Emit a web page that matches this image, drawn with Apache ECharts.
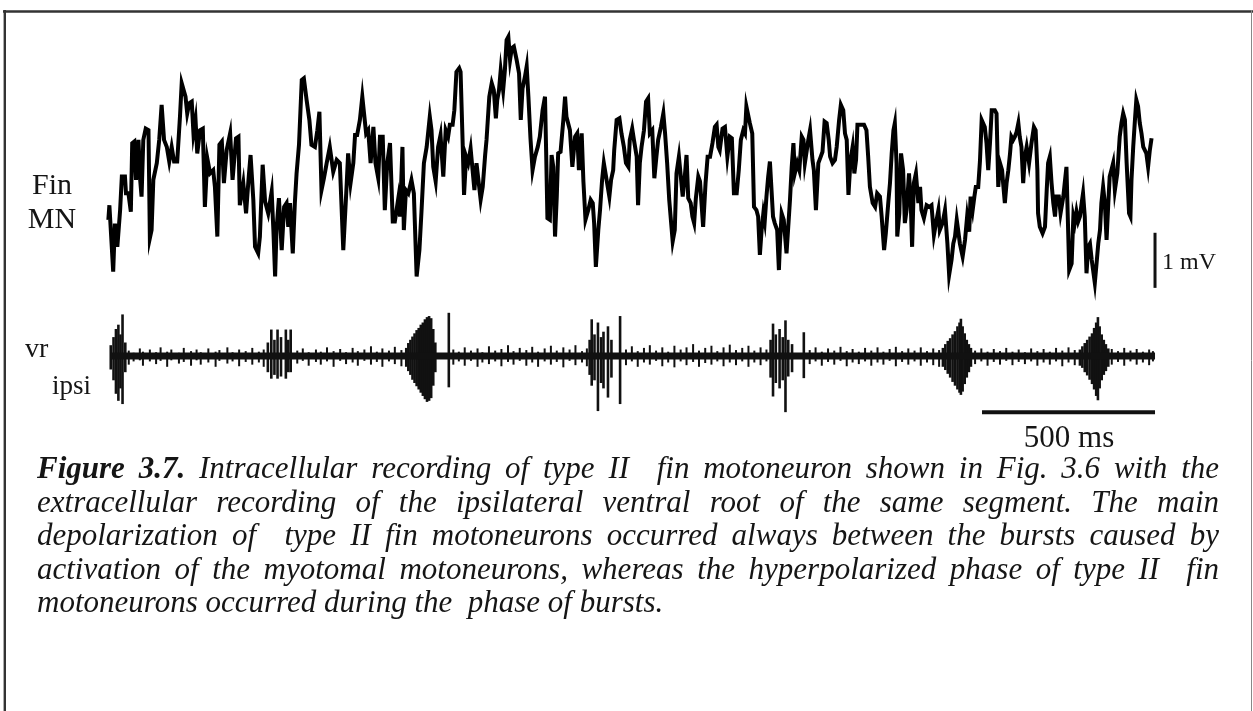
<!DOCTYPE html>
<html>
<head>
<meta charset="utf-8">
<script src="https://cdn.jsdelivr.net/npm/echarts/dist/echarts.min.js"></script>
<style>
html,body{margin:0;padding:0;background:#fff;}
#chart{width:1253px;height:711px;}
</style>
</head>
<body>
<div id="chart"></div>
<script>
// ---------- DATA (time in ms, potential in mV) ----------
// Fin MN intracellular trace, in three consecutive segments [ms, mV]
const finSeg1 = [[1,1.17],[4,1.44],[15,0.21],[20,1.10],[27,0.67],[35,1.35],[40,1.97],[49,1.97],[52,1.66],[59,1.66],[66,1.32],[70,2.59],[76,2.62],[81,1.91],[88,2.65],[93,1.91],[97,1.60],[102,2.65],[109,2.86],[117,2.83],[121,0.83],[126,0.98],[131,1.91],[141,2.22],[148,2.65],[155,3.30],[162,2.65],[170,2.52],[177,2.25],[184,2.52],[191,2.25],[200,2.25],[208,3.08],[213,3.70],[218,3.73],[224,3.45],[229,3.14],[235,3.33],[242,3.36],[247,2.77],[253,3.02],[258,2.40],[266,2.83],[274,2.86],[280,1.41],[287,2.31],[295,2.03],[304,2.09],[309,1.78],[316,0.86],[322,2.56],[329,2.62],[335,1.85],[343,2.46],[353,2.77],[360,1.91],[370,2.68],[377,2.71],[381,1.44],[391,1.85],[399,1.29],[406,1.91],[412,2.37],[420,1.54],[425,0.67],[434,0.55],[439,0.86],[447,2.19],[454,1.51],[463,1.29],[473,1.69],[478,0.98],[483,0.12],[487,0.98],[494,1.57],[502,0.61],[509,1.41],[516,1.48],[521,1.04],[526,1.48],[534,0.55],[540,1.48],[545,2.03],[552,2.56],[560,3.76],[566,3.79],[574,3.39],[582,3.02],[588,2.56],[598,2.52],[605,2.83],[611,3.17],[617,1.72],[624,1.94],[632,2.22],[641,2.52],[651,2.06],[661,2.28],[670,2.22],[680,0.61],[690,1.85],[694,2.40],[701,1.85],[709,2.22],[714,2.74],[720,2.74],[728,3.02],[735,3.45],[740,3.14],[746,2.77],[752,2.83],[759,2.22],[767,2.89],[773,2.22],[781,1.94],[786,2.71],[794,2.71],[800,1.35],[807,2.22],[815,2.59],[823,1.14],[829,1.14],[839,1.57],[844,1.23],[851,2.52],[855,0.98],[861,1.72],[868,1.66],[877,1.91],[884,1.66],[892,0.12],[900,0.61],[906,1.32],[913,2.22],[921,2.52],[930,3.08],[935,2.83],[940,2.15],[947,1.88],[954,2.52],[961,2.74],[969,1.97],[976,2.83],[983,2.71],[988,2.93],[996,2.93],[1001,3.20],[1007,3.91],[1015,3.98]];
const finSeg2 = [[1019,3.91],[1025,2.59],[1029,1.63],[1035,2.34],[1041,2.22],[1048,2.49],[1053,2.46],[1059,1.72],[1065,2.22],[1070,2.25],[1077,1.54],[1083,1.78],[1090,2.37],[1094,2.65],[1102,3.45],[1109,3.70],[1115,3.57],[1121,3.05],[1125,3.39],[1130,3.57],[1135,3.94],[1142,3.57],[1147,3.94],[1152,4.50],[1157,4.56],[1162,4.13],[1167,4.35],[1173,4.38],[1181,4.13],[1188,3.88],[1193,3.02],[1198,3.60],[1205,3.82],[1210,4.01],[1215,3.45],[1221,2.68],[1227,2.09],[1234,2.34],[1242,2.52],[1248,2.71],[1256,3.20],[1263,3.45],[1266,2.52],[1270,1.20],[1277,1.17],[1282,2.37],[1287,2.15],[1292,0.86],[1297,1.60],[1301,2.40],[1308,2.43],[1316,3.02],[1321,3.45],[1325,3.08],[1335,2.83],[1342,2.15],[1350,2.71],[1356,2.77],[1361,2.09],[1369,2.77],[1374,1.88],[1380,1.17],[1388,1.35],[1395,1.54],[1401,1.48],[1405,1.11],[1410,0.30],[1417,0.98],[1422,1.35],[1428,1.91],[1433,2.22],[1441,1.91],[1449,1.60],[1454,1.91],[1460,2.09],[1463,2.46],[1470,3.02],[1478,3.05],[1484,2.77],[1491,2.52],[1497,2.22],[1504,2.15],[1508,2.65],[1515,2.86],[1520,2.65],[1528,2.34],[1532,1.44],[1537,2.22],[1542,2.52],[1549,2.83],[1555,3.36],[1561,3.42],[1566,2.77],[1573,2.83],[1579,1.94],[1585,2.34],[1590,2.65],[1598,2.89],[1605,3.14],[1610,2.77],[1616,2.22],[1622,1.54],[1632,0.77],[1638,0.98],[1643,2.03],[1650,2.34],[1655,2.37],[1661,1.60],[1667,1.97],[1672,2.37],[1677,1.57],[1684,1.48],[1689,1.23],[1694,1.11],[1699,1.57],[1706,1.97],[1711,1.88],[1715,1.91],[1720,1.04],[1727,1.85],[1733,2.34],[1740,2.34],[1747,2.59],[1754,2.89],[1759,2.93],[1764,2.52],[1768,2.46],[1776,2.86],[1783,2.89],[1790,2.34],[1797,2.71],[1803,2.68],[1809,1.66],[1817,1.66],[1823,2.09],[1829,2.65],[1836,2.83],[1841,2.77],[1845,3.27],[1850,3.30],[1855,2.96],[1862,2.77],[1867,1.41],[1874,1.35],[1879,1.23],[1884,0.52],[1889,0.98],[1894,1.29],[1898,1.14],[1903,1.60],[1908,1.97],[1913,2.25],[1918,2.22],[1922,1.23],[1927,1.11],[1934,0.98],[1939,0.24],[1942,0.73],[1947,1.29],[1953,1.17],[1961,0.55],[1966,1.04],[1971,1.54]];
const finSeg3 = [[1976,2.15],[1981,2.59],[1985,2.03],[1992,2.22],[1998,2.09],[2005,2.71],[2010,2.65],[2014,2.22],[2019,2.19],[2024,2.65],[2029,2.83],[2036,2.28],[2040,2.09],[2046,1.35],[2053,2.22],[2060,2.34],[2065,2.43],[2071,2.99],[2077,2.96],[2083,2.65],[2087,2.34],[2094,2.22],[2101,2.28],[2106,2.52],[2113,3.02],[2118,3.30],[2125,3.20],[2130,2.77],[2135,2.65],[2140,1.63],[2146,2.28],[2152,2.52],[2157,2.03],[2162,2.28],[2166,2.93],[2173,2.93],[2178,2.96],[2185,2.93],[2192,2.83],[2197,2.34],[2202,1.78],[2210,1.48],[2217,1.41],[2223,1.66],[2231,1.60],[2236,1.23],[2243,0.61],[2248,0.92],[2255,1.48],[2260,1.85],[2265,2.40],[2270,2.83],[2274,2.96],[2279,2.22],[2281,0.86],[2287,1.29],[2292,2.40],[2298,2.09],[2303,1.11],[2308,1.35],[2315,2.03],[2320,1.48],[2324,0.67],[2329,1.85],[2335,2.03],[2342,1.48],[2347,1.78],[2351,1.35],[2358,1.20],[2366,1.44],[2374,1.41],[2380,1.44],[2387,0.89],[2393,1.11],[2400,1.35],[2404,0.98],[2412,1.11],[2419,1.35],[2426,0.73],[2431,0.15],[2438,0.43],[2443,0.73],[2448,0.86],[2453,1.17],[2457,0.98],[2462,0.73],[2470,0.49],[2477,0.80],[2483,1.23],[2489,0.95],[2493,1.60],[2499,1.35],[2504,1.60],[2508,1.78],[2515,1.78],[2520,2.25],[2525,3.02],[2530,3.05],[2534,2.89],[2539,2.59],[2544,2.09],[2549,2.59],[2554,3.20],[2558,3.23],[2563,3.20],[2568,3.14],[2573,1.78],[2578,2.22],[2584,2.09],[2587,1.85],[2592,1.48],[2597,1.85],[2602,2.09],[2607,2.40],[2611,2.71],[2616,2.65],[2621,2.71],[2626,2.80],[2631,2.96],[2635,2.71],[2640,2.52],[2645,1.85],[2650,2.34],[2655,2.52],[2662,2.22],[2669,2.59],[2676,2.89],[2681,2.83],[2686,2.09],[2688,1.29],[2693,1.04],[2701,0.92],[2708,1.04],[2713,1.72],[2717,2.22],[2722,2.34],[2727,1.85],[2732,1.48],[2737,1.23],[2741,1.60],[2748,1.60],[2753,1.29],[2761,1.60],[2765,1.85],[2770,2.15],[2775,2.15],[2778,0.24],[2785,0.36],[2790,1.23],[2794,1.11],[2799,1.32],[2804,1.14],[2809,1.23],[2814,1.48],[2818,1.66],[2823,1.23],[2828,0.18],[2833,0.67],[2838,0.73],[2843,0.43],[2847,0.24],[2852,0.00],[2857,0.36],[2862,0.73],[2867,0.98],[2871,1.48],[2876,1.78],[2881,1.48],[2886,0.80],[2891,1.48],[2895,1.97],[2900,2.09],[2905,2.22],[2910,1.72],[2917,2.03],[2924,2.71],[2929,2.96],[2934,3.14],[2939,3.02],[2944,2.22],[2951,1.29],[2955,1.23],[2958,1.91],[2963,2.52],[2968,3.02],[2972,3.39],[2977,3.27],[2982,2.96],[2987,2.77],[2992,2.52],[2997,2.52],[3001,2.40],[3006,2.15],[3011,2.46],[3016,2.68]];

// Ventral root (vr ipsi), relative units: baseline band
const vrBaseline = [[6,0],[3026,0]];
// small background deflections between bursts [ms, high, low]
const vrNoise = [
  [60,0.10,-0.16],[74,0.06,-0.10],[92,0.14,-0.08],[101,0.08,-0.18],[121,0.12,-0.10],[139,0.07,-0.15],[152,0.16,-0.09],[171,0.08,-0.20],[183,0.12,-0.08],[205,0.06,-0.14],[219,0.15,-0.11],[240,0.09,-0.18],[256,0.12,-0.08],[268,0.07,-0.16],[290,0.14,-0.12],[311,0.08,-0.20],[322,0.11,-0.09],[345,0.16,-0.14],[360,0.07,-0.10],[379,0.12,-0.19],[398,0.09,-0.11],[417,0.15,-0.16],[436,0.08,-0.12],[450,0.12,-0.20],
  [547,0.10,-0.14],[563,0.14,-0.09],[580,0.07,-0.18],[601,0.12,-0.11],[615,0.08,-0.16],[633,0.16,-0.10],[652,0.09,-0.20],[671,0.13,-0.09],[688,0.07,-0.15],[707,0.15,-0.12],[722,0.09,-0.18],[741,0.12,-0.09],[760,0.18,-0.16],[777,0.08,-0.11],[793,0.14,-0.20],[812,0.10,-0.10],[829,0.17,-0.15],[848,0.11,-0.19],
  [998,0.12,-0.16],[1014,0.08,-0.10],[1031,0.16,-0.18],[1049,0.10,-0.09],[1068,0.14,-0.20],[1082,0.07,-0.12],[1101,0.18,-0.15],[1119,0.10,-0.10],[1137,0.13,-0.19],[1156,0.20,-0.11],[1172,0.09,-0.16],[1190,0.15,-0.09],[1209,0.11,-0.18],[1226,0.17,-0.12],[1243,0.08,-0.20],[1262,0.14,-0.10],[1280,0.19,-0.16],[1297,0.10,-0.11],[1316,0.16,-0.21],[1334,0.12,-0.09],[1351,0.20,-0.17],[1370,0.09,-0.12],[1384,0.14,-0.19],
  [1497,0.12,-0.17],[1514,0.18,-0.10],[1531,0.09,-0.20],[1549,0.15,-0.12],[1566,0.20,-0.16],[1584,0.10,-0.09],[1602,0.16,-0.19],[1619,0.08,-0.12],[1637,0.19,-0.21],[1655,0.12,-0.10],[1672,0.16,-0.17],[1691,0.22,-0.11],[1708,0.10,-0.20],[1726,0.15,-0.13],[1744,0.19,-0.16],[1761,0.09,-0.10],[1779,0.16,-0.19],[1797,0.21,-0.12],[1815,0.11,-0.17],[1833,0.15,-0.10],[1851,0.19,-0.20],[1868,0.10,-0.12],[1886,0.16,-0.17],[1903,0.12,-0.10],
  [2028,0.11,-0.15],[2045,0.16,-0.10],[2063,0.08,-0.18],[2081,0.14,-0.11],[2099,0.10,-0.16],[2117,0.17,-0.09],[2135,0.09,-0.19],[2152,0.13,-0.12],[2170,0.08,-0.15],[2188,0.15,-0.10],[2206,0.10,-0.18],[2224,0.16,-0.12],[2241,0.08,-0.16],[2259,0.13,-0.09],[2277,0.17,-0.19],[2295,0.09,-0.11],[2313,0.14,-0.16],[2331,0.10,-0.10],[2349,0.16,-0.18],[2367,0.09,-0.12],[2385,0.14,-0.17],[2402,0.11,-0.20],
  [2506,0.10,-0.15],[2524,0.14,-0.10],[2542,0.08,-0.18],[2560,0.13,-0.11],[2578,0.09,-0.16],[2596,0.15,-0.09],[2614,0.08,-0.17],[2632,0.12,-0.11],[2650,0.07,-0.15],[2668,0.14,-0.10],[2686,0.09,-0.18],[2704,0.13,-0.12],[2722,0.08,-0.16],[2740,0.15,-0.10],[2758,0.10,-0.19],[2776,0.16,-0.12],[2794,0.11,-0.17],
  [2901,0.13,-0.16],[2919,0.09,-0.11],[2937,0.15,-0.18],[2955,0.10,-0.10],[2973,0.13,-0.16],[2991,0.08,-0.12],[3009,0.12,-0.17],[3020,0.09,-0.10]
];
// burst spikes [ms, high, low]
const vrBursts = [
  [8,0.20,-0.25],[16,0.35,-0.45],[23,0.50,-0.70],[30,0.58,-0.83],[36,0.40,-0.60],[42,0.77,-0.89],[50,0.25,-0.30],
  [462,0.25,-0.30],[472,0.49,-0.42],[481,0.30,-0.35],[490,0.49,-0.42],[500,0.35,-0.38],[514,0.49,-0.42],[521,0.30,-0.30],[528,0.49,-0.30],
  [862,0.15,-0.20],[868,0.24,-0.28],[874,0.30,-0.35],[880,0.36,-0.44],[886,0.42,-0.50],[892,0.48,-0.56],[898,0.52,-0.62],[904,0.58,-0.68],[910,0.62,-0.74],[916,0.68,-0.80],[922,0.72,-0.85],[928,0.74,-0.83],[934,0.70,-0.78],[940,0.50,-0.55],[946,0.25,-0.30],[985,0.80,-0.58],
  [1392,0.30,-0.35],[1398,0.68,-0.55],[1406,0.40,-0.45],[1416,0.62,-1.02],[1425,0.35,-0.50],[1432,0.45,-0.60],[1445,0.55,-0.77],[1455,0.30,-0.40],[1480,0.74,-0.89],
  [1915,0.30,-0.40],[1922,0.60,-0.75],[1930,0.40,-0.50],[1941,0.50,-0.60],[1950,0.35,-0.45],[1958,0.66,-1.04],[1966,0.30,-0.38],[1977,0.22,-0.30],[2011,0.44,-0.41],
  [2413,0.15,-0.20],[2420,0.22,-0.26],[2427,0.28,-0.33],[2434,0.33,-0.40],[2441,0.40,-0.48],[2448,0.46,-0.55],[2455,0.55,-0.62],[2461,0.62,-0.68],[2465,0.69,-0.72],[2470,0.55,-0.66],[2476,0.42,-0.52],[2482,0.30,-0.40],[2488,0.22,-0.30],[2494,0.15,-0.20],
  [2809,0.12,-0.18],[2816,0.18,-0.22],[2823,0.24,-0.30],[2830,0.30,-0.36],[2837,0.36,-0.44],[2844,0.42,-0.52],[2850,0.52,-0.62],[2856,0.62,-0.74],[2861,0.72,-0.82],[2866,0.55,-0.60],[2872,0.40,-0.45],[2878,0.30,-0.35],[2884,0.22,-0.28],[2891,0.14,-0.20]
];

// Scale bars
const mvBar = [[3026,-0.09],[3026,0.93]];      // 1 mV
const msBar = [[2526,-1.04],[3026,-1.04]];     // 500 ms

// Labels and caption
const traceLabels = ['Fin', 'MN', 'vr', 'ipsi'];
const mvBarLabel = '1 mV';
const msBarLabel = '500 ms';
const captionBold = 'Figure 3.7.';
const captionLines = [
  'Figure 3.7. Intracellular recording of type II  fin motoneuron shown in Fig. 3.6 with the',
  'extracellular recording of the ipsilateral ventral root of the same segment. The main',
  'depolarization of  type II fin motoneurons occurred always between the bursts caused by',
  'activation of the myotomal motoneurons, whereas the hyperpolarized phase of type II  fin',
  'motoneurons occurred during the  phase of bursts.'
];

// ---------- CHART ----------
const finData = finSeg1.concat(finSeg2, finSeg3);
const chart = echarts.init(document.getElementById('chart'), null, {renderer: 'canvas'});

const SERIF = '"Liberation Serif", "Times New Roman", serif';
const INK = '#151515';

// caption layout (justified like the original)
const capFont = 31;
const capLeft = 37, capRight = 1219, capTop = 470, capStep = 33.5;
const mctx = document.createElement('canvas').getContext('2d');
function textW(t, bold) {
  mctx.font = 'italic ' + (bold ? 'bold ' : '') + capFont + 'px "Liberation Serif"';
  return mctx.measureText(t).width;
}
const captionEls = [];
captionLines.forEach(function (line, li) {
  const toks = line.split(' ');
  const boldCount = li === 0 ? captionBold.split(' ').length : 0;
  const widths = toks.map(function (t, i) { return t ? textW(t, i < boldCount) : 0; });
  const total = widths.reduce(function (a, b) { return a + b; }, 0);
  const justify = li < captionLines.length - 1;
  const gap = justify ? (capRight - capLeft - total) / (toks.length - 1) : textW(' ', false);
  let x = capLeft;
  toks.forEach(function (t, i) {
    if (t) {
      captionEls.push({
        type: 'text', x: x, y: capTop + li * capStep, silent: true,
        style: {
          text: t, fill: INK,
          font: 'italic ' + (i < boldCount ? 'bold ' : '') + capFont + 'px "Liberation Serif"',
          textAlign: 'left', textVerticalAlign: 'middle', align: 'left', verticalAlign: 'middle'
        }
      });
    }
    x += widths[i] + gap;
  });
});

function label(text, x, y, size, align) {
  return {
    type: 'text', x: x, y: y, silent: true,
    style: { text: text, fill: INK, font: size + 'px ' + SERIF,
      textAlign: align, textVerticalAlign: 'middle', align: align, verticalAlign: 'middle' }
  };
}

function spikeSeries(name, data, width) {
  return {
    name: name, type: 'custom', xAxisIndex: 1, yAxisIndex: 1, data: data,
    clip: false, encode: { x: 0, y: [1, 2] },
    renderItem: function (params, api) {
      const p1 = api.coord([api.value(0), api.value(1)]);
      const p2 = api.coord([api.value(0), api.value(2)]);
      return { type: 'line', shape: { x1: p1[0], y1: p1[1], x2: p2[0], y2: p2[1] },
        style: { stroke: '#111', lineWidth: width } };
    }
  };
}

const option = {
  animation: false,
  backgroundColor: '#ffffff',
  grid: [
    { left: 108, top: 34.6, width: 1048.4, height: 253.8 },
    { left: 108, top: 310.1, width: 1048.4, height: 110.7 }
  ],
  xAxis: [
    { gridIndex: 0, type: 'value', min: 0, max: 3030, show: false },
    { gridIndex: 1, type: 'value', min: 0, max: 3030, show: false }
  ],
  yAxis: [
    { gridIndex: 0, type: 'value', min: -0.1, max: 4.6, show: false },
    { gridIndex: 1, type: 'value', min: -1.2, max: 0.85, show: false }
  ],
  series: [
    { name: 'Fin MN', type: 'line', xAxisIndex: 0, yAxisIndex: 0, data: finData,
      symbol: 'none', clip: false, sampling: null,
      lineStyle: { color: '#000', width: 4, join: 'miter' } },
    { name: '1 mV', type: 'line', xAxisIndex: 0, yAxisIndex: 0, data: mvBar,
      symbol: 'none', clip: false, lineStyle: { color: '#111', width: 3 } },
    { name: 'vr band', type: 'line', xAxisIndex: 1, yAxisIndex: 1, data: vrBaseline,
      symbol: 'none', clip: false, lineStyle: { color: '#111', width: 7 } },
    spikeSeries('vr noise', vrNoise, 2),
    spikeSeries('vr bursts', vrBursts, 2.6),
    { name: '500 ms', type: 'line', xAxisIndex: 1, yAxisIndex: 1, data: msBar,
      symbol: 'none', clip: false, lineStyle: { color: '#111', width: 4 } }
  ],
  graphic: [
    // frame
    { type: 'line', silent: true, shape: { x1: 3, y1: 11.5, x2: 1253, y2: 11.5 }, style: { stroke: '#333', lineWidth: 2.6 } },
    { type: 'line', silent: true, shape: { x1: 4.8, y1: 10, x2: 4.8, y2: 711 }, style: { stroke: '#333', lineWidth: 2.4 } },
    { type: 'line', silent: true, shape: { x1: 1251.5, y1: 10, x2: 1251.5, y2: 711 }, style: { stroke: '#888', lineWidth: 1 } },
    // trace labels
    label(traceLabels[0], 52, 186, 30, 'center'),
    label(traceLabels[1], 52, 220, 30, 'center'),
    label(traceLabels[2], 25, 350, 28, 'left'),
    label(traceLabels[3], 52, 387, 27, 'left'),
    label(mvBarLabel, 1162, 263, 24, 'left'),
    label(msBarLabel, 1069, 439, 31, 'center')
  ].concat(captionEls)
};
chart.setOption(option);
</script>
</body>
</html>
